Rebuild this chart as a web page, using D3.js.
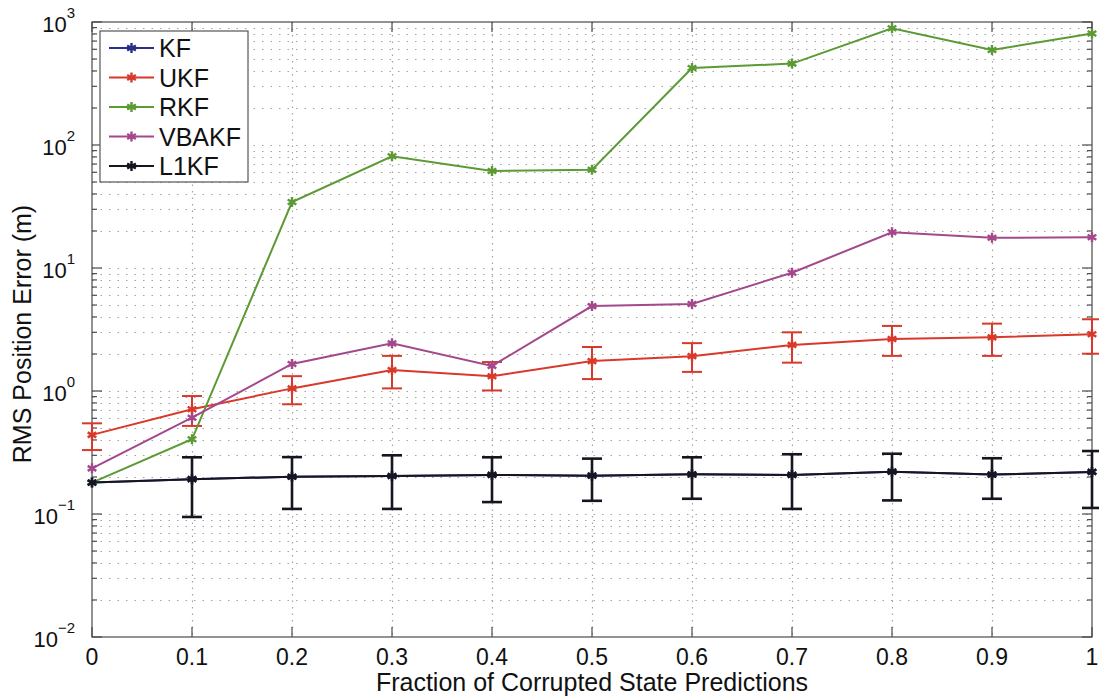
<!DOCTYPE html>
<html>
<head>
<meta charset="utf-8">
<script src="https://cdn.jsdelivr.net/npm/d3@7"></script>
<style>
  body { margin: 0; background: #fff; }
  svg text { font-family: "Liberation Sans", Arial, sans-serif; fill: #111; }
</style>
</head>
<body>
<svg id="chart" width="1099" height="698"></svg>
<script>
// fraction of corrupted state predictions
const fractions = [0, 0.1, 0.2, 0.3, 0.4, 0.5, 0.6, 0.7, 0.8, 0.9, 1.0]
const xTicks = [0, 0.1, 0.2, 0.3, 0.4, 0.5, 0.6, 0.7, 0.8, 0.9, 1]
const yExponents = [-2, -1, 0, 1, 2, 3]

// RMS position error (m)
const kf = [0.18, 0.192, 0.201, 0.204, 0.208, 0.205, 0.21, 0.208, 0.221, 0.209, 0.22]
const ukf = [0.44, 0.71, 1.05, 1.48, 1.32, 1.75, 1.92, 2.37, 2.65, 2.73, 2.89]
const ukfHi = [0.546, 0.91, 1.32, 1.93, 1.72, 2.28, 2.45, 3.0, 3.38, 3.53, 3.83]
const ukfLo = [0.331, 0.52, 0.78, 1.05, 1.01, 1.25, 1.43, 1.70, 1.93, 1.93, 2.01]
const rkf = [0.18, 0.405, 34.4, 81, 61.5, 63, 423, 459, 889, 592, 807]
const vbakf = [0.235, 0.607, 1.66, 2.44, 1.6, 4.9, 5.1, 9.16, 19.5, 17.6, 17.8]
const l1kf = [0.18, 0.192, 0.201, 0.204, 0.208, 0.205, 0.21, 0.208, 0.221, 0.209, 0.22]
const l1kfHi = [0.18, 0.289, 0.29, 0.30, 0.289, 0.282, 0.289, 0.306, 0.309, 0.284, 0.325]
const l1kfLo = [0.18, 0.0946, 0.110, 0.110, 0.125, 0.128, 0.133, 0.110, 0.129, 0.133, 0.112]

const seriesNames = ["KF", "UKF", "RKF", "VBAKF", "L1KF"]
const seriesColors = ["#2a2f8a", "#d8392b", "#5c9a34", "#a4488c", "#15161f"]

const series = [
  {name: "KF", values: kf},
  {name: "UKF", values: ukf, hi: ukfHi, lo: ukfLo},
  {name: "RKF", values: rkf},
  {name: "VBAKF", values: vbakf},
  {name: "L1KF", values: l1kf, hi: l1kfHi, lo: l1kfLo}
]

const margin = {top: 22, right: 7, bottom: 61, left: 92}
const width = 1099, height = 698
const innerW = width - margin.left - margin.right
const innerH = height - margin.top - margin.bottom

const svg = d3.select("#chart")
const g = svg.append("g").attr("transform", `translate(${margin.left},${margin.top})`)

const x = d3.scaleLinear().domain([0, 1]).range([0, innerW])
const y = d3.scaleLog().domain([1e-2, 1e3]).range([innerH, 0])
const color = d3.scaleOrdinal().domain(seriesNames).range(seriesColors)

// minor log positions
const minorVals = []
yExponents.slice(0, -1).forEach(e => {
  for (let k = 2; k <= 9; k++) minorVals.push(k * Math.pow(10, e))
})
const majorVals = yExponents.map(e => Math.pow(10, e))

// grid (dotted, MATLAB style)
const grid = g.append("g").attr("class", "grid")
  .attr("stroke", "#a3a3a3").attr("stroke-width", 1.2)
grid.selectAll(".hy").data(minorVals.concat(majorVals.slice(1, -1))).join("line")
  .attr("stroke-dasharray", "1.5,7")
  .attr("x1", 0).attr("x2", innerW)
  .attr("y1", d => Math.round(y(d)) + 0.5).attr("y2", d => Math.round(y(d)) + 0.5)
grid.selectAll(".vx").data(xTicks.slice(1, -1)).join("line")
  .attr("stroke-dasharray", "1.5,5")
  .attr("y1", 0).attr("y2", innerH)
  .attr("x1", d => Math.round(x(d)) + 0.5).attr("x2", d => Math.round(x(d)) + 0.5)

// axes frame and ticks (inside, on all sides)
const frame = g.append("g").attr("stroke", "#4a4a4a").attr("stroke-width", 1.2)
frame.append("rect").attr("x", 0).attr("y", 0).attr("width", innerW).attr("height", innerH)
  .attr("fill", "none")
const tickSets = [
  {vals: majorVals, len: 10},
  {vals: minorVals, len: 5}
]
tickSets.forEach(t => {
  frame.selectAll(null).data(t.vals).join("line")
    .attr("x1", 0).attr("x2", t.len).attr("y1", d => y(d)).attr("y2", d => y(d))
  frame.selectAll(null).data(t.vals).join("line")
    .attr("x1", innerW - t.len).attr("x2", innerW).attr("y1", d => y(d)).attr("y2", d => y(d))
})
frame.selectAll(null).data(xTicks).join("line")
  .attr("x1", d => x(d)).attr("x2", d => x(d)).attr("y1", innerH).attr("y2", innerH - 10)
frame.selectAll(null).data(xTicks).join("line")
  .attr("x1", d => x(d)).attr("x2", d => x(d)).attr("y1", 0).attr("y2", 10)

// x tick labels
g.append("g").selectAll("text").data(xTicks).join("text")
  .attr("x", d => x(d)).attr("y", innerH + 28)
  .attr("text-anchor", "middle").attr("font-size", 23)
  .text(d => d3.format("~g")(d))

// y tick labels: 10^e
const yLab = g.append("g").selectAll("text").data(yExponents).join("text")
  .attr("x", -17).attr("y", d => y(Math.pow(10, d)) + 10)
  .attr("text-anchor", "end").attr("font-size", 22)
yLab.append("tspan").text("10")
yLab.append("tspan").attr("dy", -14).attr("font-size", 15)
  .text(d => d < 0 ? "\u2212" + Math.abs(d) : d)

// axis titles
svg.append("text")
  .attr("x", margin.left + innerW / 2).attr("y", 691)
  .attr("text-anchor", "middle").attr("font-size", 25)
  .text("Fraction of Corrupted State Predictions")
svg.append("text")
  .attr("transform", `translate(31,334) rotate(-90)`)
  .attr("text-anchor", "middle").attr("font-size", 25)
  .text("RMS Position Error (m)")

// lines
const line = d3.line().x((d, i) => x(fractions[i])).y(d => y(d))
const star = d3.symbol().type(d3.symbolAsterisk).size(70)

series.forEach(s => {
  const c = color(s.name)
  const sg = g.append("g").attr("class", "series")
  const bw = s.name === "L1KF" ? 2.6 : 2
  if (s.hi) {
    const eb = sg.append("g").attr("stroke", c).attr("stroke-width", bw)
    const idx = d3.range(fractions.length).filter(i => s.hi[i] !== s.lo[i] || s.hi[i] !== s.values[i])
    eb.selectAll(".v").data(idx).join("line")
      .attr("x1", i => x(fractions[i])).attr("x2", i => x(fractions[i]))
      .attr("y1", i => y(s.hi[i])).attr("y2", i => y(s.lo[i]))
    ;["hi", "lo"].forEach(k => {
      eb.selectAll(null).data(idx).join("line")
        .attr("x1", i => x(fractions[i]) - 10).attr("x2", i => x(fractions[i]) + 10)
        .attr("y1", i => y(s[k][i])).attr("y2", i => y(s[k][i]))
    })
  }
  sg.append("path").datum(s.values)
    .attr("d", line).attr("fill", "none").attr("stroke", c).attr("stroke-width", 2)
  sg.selectAll(".m").data(s.values).join("path")
    .attr("transform", (d, i) => `translate(${x(fractions[i])},${y(d)})`)
    .attr("d", star).attr("fill", "none").attr("stroke", c).attr("stroke-width", 2.4)
})

// legend
const legend = g.append("g").attr("transform", "translate(8,9)")
legend.append("rect").attr("width", 148).attr("height", 151)
  .attr("fill", "#fff").attr("stroke", "#555").attr("stroke-width", 1.2)
const items = legend.selectAll(".item").data(seriesNames).join("g")
  .attr("transform", (d, i) => `translate(0,${17 + i * 29.5})`)
items.append("line").attr("x1", 9).attr("x2", 54)
  .attr("stroke", d => color(d)).attr("stroke-width", 2)
items.append("path").attr("transform", "translate(31.5,0)")
  .attr("d", star).attr("fill", "none").attr("stroke", d => color(d)).attr("stroke-width", 2.4)
items.append("text").attr("x", 59).attr("y", 9).attr("font-size", 25).text(d => d)
</script>
</body>
</html>
